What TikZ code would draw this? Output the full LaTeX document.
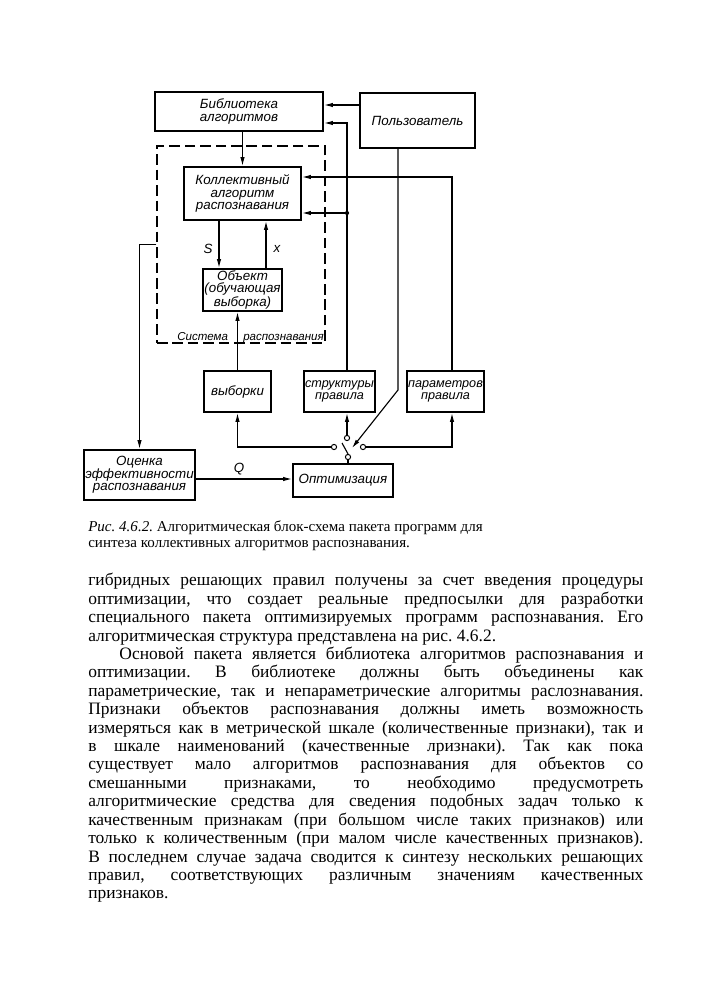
\documentclass[tikz,border=0pt]{standalone}
\usepackage{fontspec}
\setmainfont{Liberation Serif}
\newfontfamily\chertfont{Liberation Sans}
\usetikzlibrary{arrows.meta}

\tikzset{
  blok/.style={draw, line width=1.4pt, inner sep=1pt, align=center,
    font=\chertfont\itshape\fontsize{9.5}{8.8}\selectfont},
  svyaz/.style={line width=0.8pt},
  strelka/.style={svyaz, -{Latex[length=2.2mm,width=1.1mm]}},
  kontakt/.style={circle, draw, fill=white, line width=0.7pt, inner sep=0pt, minimum size=1.3mm},
  metka/.style={inner sep=0pt, font=\chertfont\itshape\fontsize{9.5}{10}\selectfont},
  sysmetka/.style={metka, anchor=base west, font=\chertfont\itshape\fontsize{8.2}{10}\selectfont},
}

\begin{document}
\frenchspacing
\begin{tikzpicture}[x=0.025cm, y=-0.025cm]
\useasboundingbox (0,0) rectangle (707,1000);

\node[draw, dashed, line width=1pt, dash pattern=on 7.5pt off 3.5pt, minimum width=4.2cm, minimum height=4.925cm] (sys) at (241,244.5) {};

\node[blok, minimum width=4.2cm, minimum height=0.975cm] (lib) at (239,111.5) {Библиотека\\алгоритмов};
\node[blok, minimum width=2.875cm, minimum height=1.375cm] (user) at (417.5,120.5) {Пользователь};
\node[blok, minimum width=2.925cm, minimum height=1.325cm] (coll) at (242.5,193.5) {Коллективный\\алгоритм\\распознавания};
\node[blok, minimum width=1.925cm, minimum height=1.05cm] (obj) at (242.5,290) {Объект\\(обучающая\\выборка)};
\node[blok, minimum width=1.675cm, minimum height=1.025cm] (samp) at (237.5,391.5) {выборки};
\node[blok, minimum width=1.625cm, minimum height=1.025cm, font=\chertfont\itshape\fontsize{9}{8.8}\selectfont] (struct) at (339.5,391.5) {структуры\\правила};
\node[blok, minimum width=1.725cm, minimum height=1.025cm, font=\chertfont\itshape\fontsize{9}{8.8}\selectfont] (param) at (445.5,391.5) {параметров\\правила};
\node[blok, minimum width=2.375cm, minimum height=1.25cm] (est) at (139.5,475) {Оценка\\эффективности\\распознавания};
\node[blok, minimum width=2.5cm, minimum height=0.825cm] (opt) at (343,480.5) {Оптимизация};

\node[sysmetka] (sysA) at (177,340) {Система};
\node[sysmetka] (sysB) at (243,340) {распознавания};

\coordinate (uzel) at (347,213);
\coordinate (izlom) at (398,390);
\coordinate (nozh) at (352,448);

\draw[strelka] (user.west |- 0,105) -- (lib.east |- 0,105);
\draw[strelka] (coll.north |- lib.south) -- (coll.north);
\draw[strelka] (struct.north -| uzel) |- (lib.east |- 0,123);
\draw[strelka] (uzel) -- (coll.east |- uzel);
\fill (uzel) circle[radius=1.5pt];
\draw[strelka] (param.north -| 452,0) |- (coll.east |- 0,177);
\draw[strelka] (coll.south -| 219,0) -- (obj.north -| 219,0);
\draw[strelka] (obj.north -| 266,0) -- (coll.south -| 266,0);
\node[metka] (lblS) at (208,249) {S};
\node[metka] (lblX) at (277,249) {x};
\draw[strelka] (samp.north) -- (samp.north |- obj.south);
\draw[strelka] (sys.west) -| (est.north);
\draw[strelka] (user.south -| izlom) -- (izlom) -- (nozh);

\draw[strelka] (est.east |- 0,479) -- (opt.west |- 0,479);
\node[metka] (lblQ) at (239,469) {Q};

\node[kontakt] (kL) at (334,447) {};
\node[kontakt] (kM) at (347,438) {};
\node[kontakt] (kR) at (363,447) {};
\node[kontakt] (kP) at (348,457) {};
\draw[svyaz] (kP) -- (opt.north -| kP);
\draw[svyaz] (kP.north) -- (342,443);
\draw[strelka] (kM) -- (struct.south -| kM);
\draw[strelka] (kL) -| (samp.south);
\draw[strelka] (kR) -| (param.south -| 452,0);

\node[anchor=north west, inner sep=0pt, align=left, font=\fontsize{10.7}{12}\selectfont] (podpis) at (88,520)
  {\textit{Рис. 4.6.2.} Алгоритмическая блок-схема пакета программ для\\синтеза коллективных алгоритмов распознавания.};

\node[anchor=north west, inner sep=0pt, text width=13.875cm, align=justify, font=\fontsize{12.4}{13.1}\selectfont] (tekst) at (88,573)
  {\hyphenpenalty=10000
  гибридных решающих правил получены за счет введения процедуры\linebreak
  оптимизации, что создает реальные предпосылки для разработки\linebreak
  специального пакета оптимизируемых программ распознавания. Его\linebreak
  алгоритмическая структура представлена на рис. 4.6.2.\par
  \hspace*{0.78cm}Основой пакета является библиотека алгоритмов распознавания и\linebreak
  оптимизации. В библиотеке должны быть объединены как\linebreak
  параметрические, так и непараметрические алгоритмы раслознавания.\linebreak
  Признаки объектов распознавания должны иметь возможность\linebreak
  измеряться как в метрической шкале (количественные признаки), так и\linebreak
  в шкале наименований (качественные лризнаки). Так как пока\linebreak
  существует мало алгоритмов распознавания для объектов со\linebreak
  смешанными признаками, то необходимо предусмотреть\linebreak
  алгоритмические средства для сведения подобных задач только к\linebreak
  качественным признакам (при большом числе таких признаков) или\linebreak
  только к количественным (при малом числе качественных признаков).\linebreak
  В последнем случае задача сводится к синтезу нескольких решающих\linebreak
  правил, соответствующих различным значениям качественных\linebreak
  признаков.};
\end{tikzpicture}
\end{document}
